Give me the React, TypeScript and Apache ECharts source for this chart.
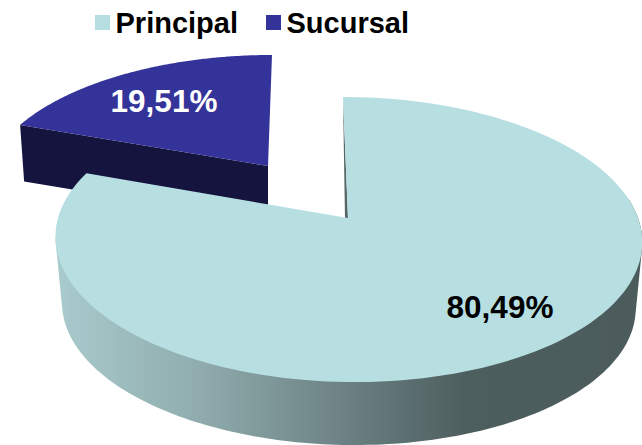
import React, { useEffect, useRef } from "react";
import * as echarts from "echarts";

const categories = ["Principal", "Sucursal"];
const shares = [80.49, 19.51];
const faceColors = ["#B7DFE2", "#333399"];

const FONT = '"Liberation Sans", Arial, sans-serif';
const K = 0.151;
const rad = (d: number) => (d * Math.PI) / 180;

type Rim = { cx: number; cy: number; R: number; S: number; a: number };

const project = (rim: Rim, deg: number): number[] => {
  const u = Math.sin(rad(deg));
  const v = Math.cos(rad(deg));
  const w = 1 + K * v;
  return [rim.cx + (rim.R * u + rim.a * v) / w, rim.cy - (rim.S * v) / w];
};

const arc = (rim: Rim, from: number, to: number, n = 160): number[][] => {
  const pts: number[][] = [];
  for (let i = 0; i <= n; i++) pts.push(project(rim, from + ((to - from) * i) / n));
  return pts;
};

// Outline that encloses both rims of the wall, so the sides run straight between them.
const hull = (input: number[][]): number[][] => {
  const pts = [...input].sort((p, q) => p[0] - q[0] || p[1] - q[1]);
  const cross = (o: number[], p: number[], q: number[]) =>
    (p[0] - o[0]) * (q[1] - o[1]) - (p[1] - o[1]) * (q[0] - o[0]);
  const half = (list: number[][]) => {
    const out: number[][] = [];
    for (const p of list) {
      while (out.length >= 2 && cross(out[out.length - 2], out[out.length - 1], p) <= 0) out.pop();
      out.push(p);
    }
    out.pop();
    return out;
  };
  return [...half(pts), ...half([...pts].reverse())];
};

const mainTop: Rim = { cx: 348, cy: 218, R: 290, S: 139.3, a: -5.75 };
const mainBottom: Rim = { cx: 348, cy: 284.6, R: 283.5, S: 136.2, a: -5.6 };
const subTop: Rim = { cx: 268, cy: 166, R: 278.5, S: 127.8, a: 4.6 };
const subBottom: Rim = { cx: 268, cy: 222, R: 274, S: 126, a: 4.6 };

const poly = (points: number[][], fill: any) => ({
  type: "polygon",
  shape: { points },
  style: { fill, stroke: "none" },
  silent: true,
});

const label = (text: string, x: number, y: number, fill: string) => ({
  type: "text",
  x,
  y,
  style: {
    text,
    x: 0,
    y: 0,
    fill,
    font: `bold 31.5px ${FONT}`,
    align: "center",
    verticalAlign: "middle",
  },
  silent: true,
});

const pct = (v: number) => `${v.toFixed(2).replace(".", ",")}%`;

const renderMain = (_: any, api: any) => {
  const span = (api.value(0) / 100) * 360;
  const apex = [mainTop.cx, mainTop.cy];
  const wall = hull([...arc(mainTop, 82, 262), ...arc(mainBottom, 82, 262)]);
  const wallFill = new echarts.graphic.LinearGradient(0, 0, 1, 0, [
    { offset: 0, color: "#A9CBCD" },
    { offset: 0.25, color: "#8FABAD" },
    { offset: 0.5, color: "#6B8082" },
    { offset: 0.7, color: "#4D5E5E" },
    { offset: 1, color: "#4C5C5C" },
  ]);
  return {
    type: "group",
    children: [
      poly([project(mainTop, 0), apex, [apex[0] - 3, apex[1]]], "#566666"),
      poly(wall, wallFill),
      poly([apex, ...arc(mainTop, 0, span)], faceColors[0]),
      label(pct(api.value(0)), 500, 307, "#000000"),
    ],
  };
};

const renderSub = (_: any, api: any) => {
  const start = (1 - api.value(0) / 100) * 360;
  const apex = [subTop.cx, subTop.cy];
  return {
    type: "group",
    children: [
      poly(
        [project(subTop, start), apex, [subBottom.cx, subBottom.cy], project(subBottom, start)],
        "#14143F",
      ),
      poly([apex, ...arc(subTop, start, 360)], faceColors[1]),
      label(pct(api.value(0)), 164, 101, "#FFFFFF"),
    ],
  };
};

export default function App() {
  const ref = useRef<HTMLDivElement>(null);
  useEffect(() => {
    document.body.style.margin = "0";
    const chart = echarts.init(ref.current!, null, { renderer: "svg" });
    chart.setOption({
      animation: false,
      backgroundColor: "#FFFFFF",
      legend: {
        data: categories,
        left: 95,
        top: 8,
        itemWidth: 15,
        itemHeight: 15,
        itemGap: 28,
        icon: "rect",
        selectedMode: false,
        padding: 0,
        textStyle: { fontFamily: FONT, fontWeight: "bold", fontSize: 29, color: "#000000", padding: [0, 0, 0, 0.5] },
      },
      series: [
        {
          type: "custom",
          name: categories[1],
          coordinateSystem: "none",
          renderItem: renderSub,
          itemStyle: { color: faceColors[1] },
          data: [[shares[1]]],
          silent: true,
          z: 1,
        },
        {
          type: "custom",
          name: categories[0],
          coordinateSystem: "none",
          renderItem: renderMain,
          itemStyle: { color: faceColors[0] },
          data: [[shares[0]]],
          silent: true,
          z: 2,
        },
      ],
    });
    return () => chart.dispose();
  }, []);
  return <div ref={ref} style={{ width: 642, height: 445 }} />;
}
